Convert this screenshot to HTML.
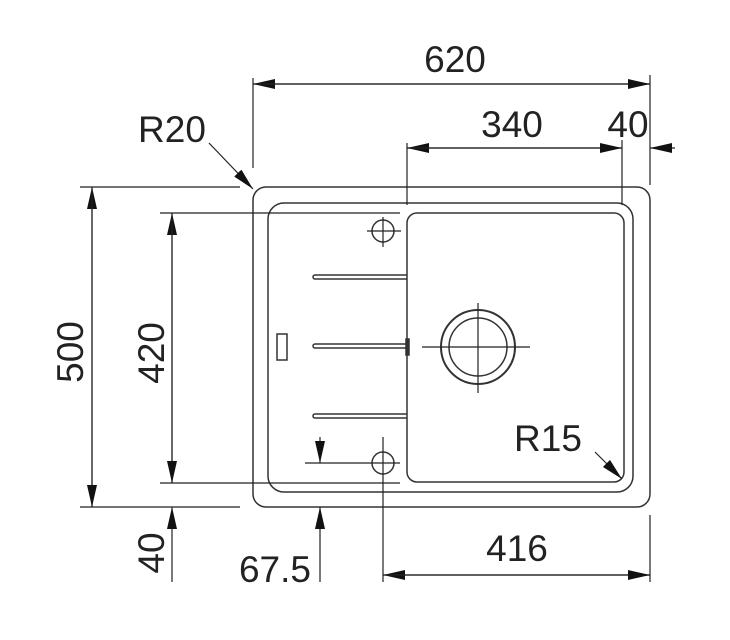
<!DOCTYPE html>
<html><head><style>body{margin:0;background:#fff}svg{display:block}text{font-family:"Liberation Sans",sans-serif;font-size:37px;fill:#222}</style></head>
<body>
<svg width="730" height="640" viewBox="0 0 730 640" xmlns="http://www.w3.org/2000/svg">
<defs>
<marker id="a" viewBox="0 0 22 10" refX="22" refY="5" markerWidth="22" markerHeight="10" markerUnits="userSpaceOnUse" orient="auto"><path d="M0,0L22,5L0,10z" fill="#111"/></marker>
</defs>
<g fill="none" stroke="#333" stroke-width="1.5">
<rect x="253" y="187" width="397" height="320" rx="13"/>
<rect x="268" y="203" width="365" height="289" rx="16"/>
<rect x="407" y="213" width="217" height="269" rx="10"/>
<path d="M407,275H315a2,2 0 0 0 0,4H407"/>
<path d="M407,344H315a2,2 0 0 0 0,4H407"/>
<path d="M407,414H315a2,2 0 0 0 0,4H407"/>
<rect x="277" y="334" width="10" height="26"/>
<rect x="406" y="339" width="3" height="16" fill="#333"/>
<circle cx="478" cy="347" r="37" stroke-width="2"/>
<circle cx="478" cy="347" r="29"/>
<circle cx="383" cy="231" r="11"/>
<circle cx="383" cy="463" r="11"/>
</g>
<g stroke="#222" stroke-width="1.2" fill="none">
<path d="M422,347H530M478,303V393M367,231H401M383,217V247M305,463H400M383,437V582"/>
<path d="M253,78V168M650,75V185M407,143V205M622,140V205M650,133V178"/>
<path d="M80,187H240M80,507H240M160,213H400M160,483H400M650,515V582"/>
<path d="M650,84H253" marker-end="url(#a)"/><path d="M253,84H650" marker-end="url(#a)"/>
<path d="M622,148H407" marker-end="url(#a)"/><path d="M407,148H622" marker-end="url(#a)"/>
<path d="M675,148H650" marker-end="url(#a)"/>
<path d="M92,507V187" marker-end="url(#a)"/><path d="M92,187V507" marker-end="url(#a)"/>
<path d="M172,483V213" marker-end="url(#a)"/><path d="M172,213V483" marker-end="url(#a)"/>
<path d="M172,582V507" marker-end="url(#a)"/>
<path d="M320,437V463" marker-end="url(#a)"/><path d="M320,582V507" marker-end="url(#a)"/>
<path d="M650,575H383" marker-end="url(#a)"/><path d="M383,575H650" marker-end="url(#a)"/>
<path d="M209,143L253,189" marker-end="url(#a)"/>
<path d="M595,452L622,479" marker-end="url(#a)"/>
</g>
<text x="455" y="72" text-anchor="middle">620</text>
<text x="512" y="137" text-anchor="middle">340</text>
<text x="628" y="137" text-anchor="middle">40</text>
<text x="172" y="142" text-anchor="middle">R20</text>
<text x="548" y="451" text-anchor="middle">R15</text>
<text x="517" y="561" text-anchor="middle">416</text>
<text x="275" y="582" text-anchor="middle">67.5</text>
<text transform="translate(83,352) rotate(-90)" text-anchor="middle">500</text>
<text transform="translate(164,353) rotate(-90)" text-anchor="middle">420</text>
<text transform="translate(164,553) rotate(-90)" text-anchor="middle">40</text>
</svg>
</body></html>
